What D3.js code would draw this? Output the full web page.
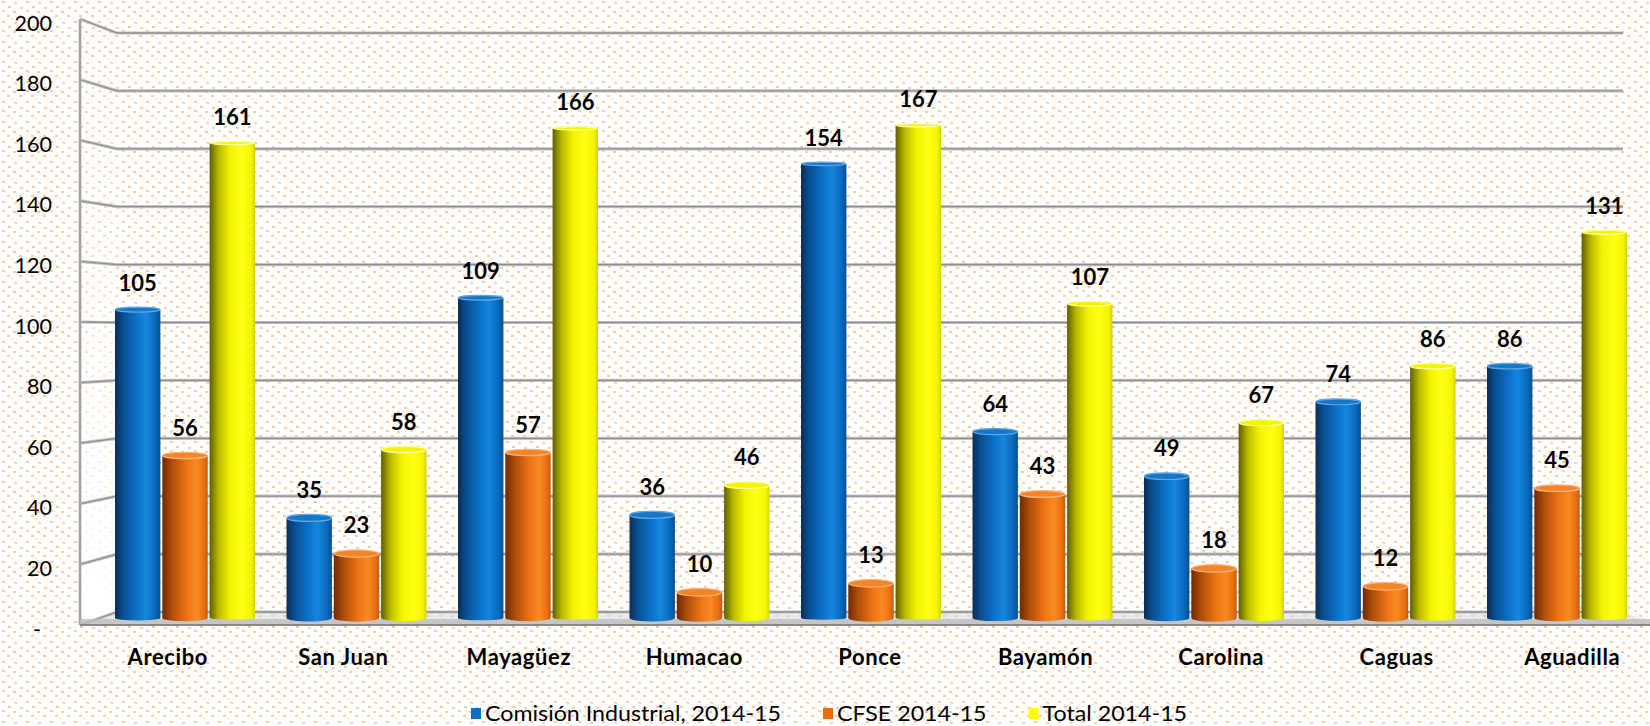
<!DOCTYPE html>
<html>
<head>
<meta charset="utf-8">
<script src="https://cdn.jsdelivr.net/npm/d3@7"></script>
<style>
  html, body { margin: 0; padding: 0; background: #fff; }
  svg { display: block; }
</style>
</head>
<body>
<svg id="chart" width="1650" height="726"></svg>
<script>
// ---------------- data ----------------
const categories = ["Arecibo", "San Juan", "Mayagüez", "Humacao", "Ponce", "Bayamón", "Carolina", "Caguas", "Aguadilla"];
const seriesNames = ["Comisión Industrial, 2014-15", "CFSE 2014-15", "Total 2014-15"];
const comisionIndustrial = [105, 35, 109, 36, 154, 64, 49, 74, 86];
const cfse = [56, 23, 57, 10, 13, 43, 18, 12, 45];
const total = [161, 58, 166, 46, 167, 107, 67, 86, 131];
const tickValues = [0, 20, 40, 60, 80, 100, 120, 140, 160, 180, 200];
const tickLabels = ["-  ", "20", "40", "60", "80", "100", "120", "140", "160", "180", "200"];

const seriesValues = [comisionIndustrial, cfse, total];

// ---------------- setup ----------------
const svg = d3.select("#chart");
const defs = svg.append("defs");

// dotted background pattern
const pat = defs.append("pattern").attr("id", "dots")
  .attr("patternUnits", "userSpaceOnUse").attr("width", 24).attr("height", 20);
pat.append("rect").attr("width", 24).attr("height", 20).attr("fill", "#ffffff");
[[2,1,3,2,"#fbc99c"],[14,2,3,2,"#fcd3ae"],[8,6,3,2,"#fbc99c"],[20,7,3,2,"#fbcfa6"],
 [2,10,3,2,"#fcd0a8"],[13,11,3,2,"#fbc99c"],[7,15,3,2,"#fbcda3"],[19,15,3,2,"#fbc99c"],
 [11,18,2,1.5,"#fde0c6"]]
  .forEach(d => pat.append("rect").attr("x", d[0]).attr("y", d[1]).attr("width", d[2]).attr("height", d[3]).attr("fill", d[4]));

svg.append("rect").attr("width", 1650).attr("height", 726).attr("fill", "url(#dots)");

// scales (three depth planes of the 3D chart)
const yFront = d3.scaleLinear().domain([0, 200]).range([625, 19]);
const yMid   = d3.scaleLinear().domain([0, 200]).range([618, 26]);
const yBack  = d3.scaleLinear().domain([0, 200]).range([612, 33]);
const xFront = d3.scaleBand().domain(categories).range([80, 1660]);
const xMid   = d3.scaleBand().domain(categories).range([99, 1642.5]);
const xBack  = d3.scaleBand().domain(categories).range([117, 1623]);
const xSeries = d3.scaleBand().domain(seriesNames).range([16, 156]).paddingInner(0.04);

const backL = xBack.range()[0], backR = xBack.range()[1];
const frontL = xFront.range()[0], frontR = xFront.range()[1];

// left wall white fade
const lw = defs.append("linearGradient").attr("id", "leftWall").attr("x1", 0).attr("y1", 0).attr("x2", 0).attr("y2", 1);
lw.append("stop").attr("offset", "0%").attr("stop-color", "#fff").attr("stop-opacity", 0);
lw.append("stop").attr("offset", "60%").attr("stop-color", "#fff").attr("stop-opacity", 0.5);
lw.append("stop").attr("offset", "100%").attr("stop-color", "#fff").attr("stop-opacity", 0.95);
svg.append("path")
  .attr("d", `M${frontL},${yFront(200)} L${backL},${yBack(200)} L${backL},${yBack(0)} L${frontL},${yFront(0)} Z`)
  .attr("fill", "url(#leftWall)");

// floor
svg.append("path")
  .attr("d", `M${backL},${yBack(0)} L${backR},${yBack(0)} L${frontR},${yFront(0)} L${frontL},${yFront(0)} Z`)
  .attr("fill", "#d9d9d9").attr("fill-opacity", 0.55);

// gridlines (left wall diagonal + back wall)
const grid = svg.append("g");
tickValues.forEach(v => {
  const d = `M${frontL},${yFront(v)} L${backL},${yBack(v)} L${backR},${yBack(v)}`;
  grid.append("path").attr("d", d).attr("fill", "none").attr("stroke", "#c4c4c4").attr("stroke-width", 3.2);
  grid.append("path").attr("d", d).attr("fill", "none").attr("stroke", "#8f8f8f").attr("stroke-width", 1.3);
});
// left wall vertical edge
grid.append("line").attr("x1", frontL).attr("x2", frontL).attr("y1", yFront(200)).attr("y2", yFront(0))
  .attr("stroke", "#c4c4c4").attr("stroke-width", 3);
grid.append("line").attr("x1", frontL).attr("x2", frontL).attr("y1", yFront(200)).attr("y2", yFront(0))
  .attr("stroke", "#8f8f8f").attr("stroke-width", 1.3);
// floor front edge
svg.append("rect").attr("x", frontL).attr("y", yFront(0) - 6).attr("width", frontR - frontL).attr("height", 6)
  .attr("fill", "#bdbdbd").attr("fill-opacity", 0.8);
svg.append("line").attr("x1", frontL).attr("x2", frontR).attr("y1", yFront(0)).attr("y2", yFront(0))
  .attr("stroke", "#8a8a8a").attr("stroke-width", 2.2);

// cylinder gradients
const gradStops = [
  [["0%", "#0b2d55"], ["18%", "#0a4f93"], ["50%", "#0b74cc"], ["68%", "#1686dc"], ["88%", "#0a6abd"], ["100%", "#084f92"]],
  [["0%", "#6e2a04"], ["22%", "#b04e0a"], ["55%", "#ee7616"], ["75%", "#f98a22"], ["92%", "#e86f12"], ["100%", "#c65a0c"]],
  [["0%", "#5e5e00"], ["20%", "#b9b900"], ["45%", "#f2f200"], ["70%", "#ffff14"], ["92%", "#f4f400"], ["100%", "#d2d200"]]
];
const topFill = ["#1677c8", "#f2852a", "#f4f400"];
const topStroke = ["#5ea6e6", "#ffb57a", "#ffff9a"];
gradStops.forEach((stops, i) => {
  const g = defs.append("linearGradient").attr("id", "cyl" + i).attr("x1", 0).attr("x2", 1).attr("y1", 0).attr("y2", 0);
  stops.forEach(s => g.append("stop").attr("offset", s[0]).attr("stop-color", s[1]));
});

// bars
const bars = svg.append("g");
categories.forEach((cat, ci) => {
  seriesNames.forEach((s, si) => {
    const v = seriesValues[si][ci];
    const x = xMid(cat) + xSeries(s);
    const w = xSeries.bandwidth();
    const rx = w / 2;
    const ry = Math.max(1.6, 4 - v * 0.015);
    const yTop = yMid(v) + ry;
    const yBase = yMid(0);
    bars.append("path")
      .attr("d", `M${x},${yTop} L${x},${yBase} A${rx},${ry} 0 0 0 ${x + w},${yBase} L${x + w},${yTop} Z`)
      .attr("fill", `url(#cyl${si})`);
    bars.append("ellipse")
      .attr("cx", x + rx).attr("cy", yTop).attr("rx", rx - 0.5).attr("ry", ry)
      .attr("fill", topFill[si]).attr("stroke", topStroke[si]).attr("stroke-width", 1.2);
  });
});

// data labels
const labels = svg.append("g")
  .attr("font-family", "Lato, 'Open Sans', sans-serif").attr("font-weight", "bold")
  .attr("font-size", 22).attr("fill", "#000").attr("text-anchor", "middle");
categories.forEach((cat, ci) => {
  seriesNames.forEach((s, si) => {
    const v = seriesValues[si][ci];
    labels.append("text")
      .attr("x", xMid(cat) + xSeries(s) + xSeries.bandwidth() / 2)
      .attr("y", yMid(v) - 16.5)
      .text(v);
  });
});

// y-axis labels
const yAxisG = svg.append("g")
  .attr("font-family", "Lato, 'Open Sans', sans-serif").attr("font-size", 21.5).attr("fill", "#000");
tickValues.forEach((v, i) => {
  yAxisG.append("text")
    .attr("x", 52).attr("y", yFront(v) + 4).attr("dy", "0.35em")
    .attr("text-anchor", "end").style("white-space", "pre")
    .text(tickLabels[i]);
});

// category labels
const xAxisG = svg.append("g")
  .attr("font-family", "Lato, 'Open Sans', sans-serif").attr("font-weight", "bold")
  .attr("font-size", 22).attr("letter-spacing", 0.6).attr("fill", "#000").attr("text-anchor", "middle");
categories.forEach(cat => {
  xAxisG.append("text").attr("x", xFront(cat) + xFront.bandwidth() / 2).attr("y", 665).text(cat);
});

// legend
const legendColors = ["#0a6ec2", "#e86d0e", "#ffff00"];
const legend = svg.append("g")
  .attr("font-family", "Lato, 'Open Sans', sans-serif").attr("font-size", 21).attr("fill", "#000");
let lx = 471, k = null;
seriesNames.forEach((s, i) => {
  legend.append("rect").attr("x", lx).attr("y", 708).attr("width", 10).attr("height", 11).attr("fill", legendColors[i]);
  const t = legend.append("text").attr("x", lx + 14).attr("y", 720.5).text(s);
  const natural = t.node().getComputedTextLength();
  if (k === null) k = 296 / natural;
  const w = natural * k;
  t.attr("textLength", w).attr("lengthAdjust", "spacingAndGlyphs");
  lx += 14 + w + 42;
});
</script>
</body>
</html>
